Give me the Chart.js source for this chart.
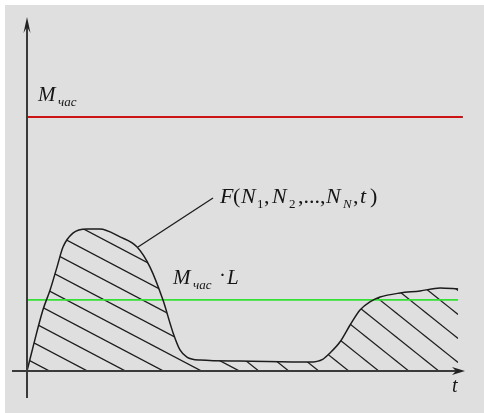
<!DOCTYPE html>
<html>
<head>
<meta charset="utf-8">
<script src="https://cdn.jsdelivr.net/npm/chart.js@4"></script>
<style>
  html, body { margin: 0; padding: 0; background: #fff; }
  #wrap { position: relative; width: 484px; height: 413px; }
  #panel { position: absolute; left: 5px; top: 5px; right: 0; bottom: 0; background: #dfdfdf; }
  #loadChart { position: absolute; left: 0; top: 0; }
</style>
</head>
<body>
<div id="wrap">
  <div id="panel"></div>
  <canvas id="loadChart" width="484" height="413"></canvas>
</div>
<script>
// Load curve F(N1, N2, ..., NN, t) over time
const timePoints = [0, 0.2, 0.53, 0.77, 1.0, 1.2, 1.53, 2.0, 2.43, 3.1, 3.67, 4.1, 4.53, 4.87, 5.1, 5.33, 5.77, 7.1,
                    9.43, 9.87, 10.1, 10.43, 10.77, 11.1, 11.43, 11.77, 12.43, 13.1, 13.77, 14.37];
const loadValues = [0, 0.94, 2.4, 3.19, 4.09, 4.88, 5.43, 5.59, 5.59, 5.28, 4.88, 4.09, 2.8, 1.5, 0.83, 0.55, 0.43, 0.39,
                    0.35, 0.47, 0.71, 1.14, 1.81, 2.4, 2.72, 2.91, 3.07, 3.15, 3.27, 3.23];
const splitIndex = 17; // hatching changes direction after the first hump

// Limit levels
const maxLoad = 10;      // M_час
const loadFactor = 0.28; // L
const maxLineEnd = 14.53;
const limitLineEnd = 14.37;

// Leader line to the curve label
const leaderT = [3.7, 6.2];
const leaderF = [4.88, 6.81];

// Axis extents
const tAxisRange = [-0.5, 14.6];
const fAxisRange = [-1.06, 13.94];

function hatchPattern(w, h, offset) {
    const c = document.createElement('canvas');
    c.width = w;
    c.height = h;
    const g = c.getContext('2d');
    g.strokeStyle = '#1e1e1e';
    g.lineWidth = 1.3;
    for (let k = -2; k <= 2; k++) {
        g.beginPath();
        g.moveTo(-w, -h + offset + k * h);
        g.lineTo(2 * w, 2 * h + offset + k * h);
        g.stroke();
    }
    return g.createPattern(c, 'repeat');
}

const curve = timePoints.map((t, i) => ({ x: t, y: loadValues[i] }));
const leftPart = curve.map((p, i) => (i <= splitIndex ? p : { x: p.x, y: null }));
const rightPart = curve.map((p, i) => (i >= splitIndex ? p : { x: p.x, y: null }));

// each run: text, font, x offset from the label start, baseline shift
function drawRuns(ctx, x, y, runs) {
    runs.forEach(r => {
        ctx.font = r.font;
        ctx.fillText(r.text, x + r.at, y + (r.dy || 0));
    });
}

const serif = "'Liberation Serif', 'DejaVu Serif', serif";
const big = 'italic 21px ' + serif;
const bigUp = '21px ' + serif;
const sub = 'italic 13px ' + serif;
const subUp = '13px ' + serif;
const fBig = 'italic 22px ' + serif;
const fBigUp = '22px ' + serif;

// Axes with arrows and the formula labels
const annotations = {
    id: 'annotations',
    afterDatasetsDraw(chart) {
        const ctx = chart.ctx;
        const xs = chart.scales.x, ys = chart.scales.y;
        const x0 = xs.getPixelForValue(0), y0 = ys.getPixelForValue(0);
        ctx.save();

        ctx.strokeStyle = '#3a3a3a';
        ctx.fillStyle = '#222';
        ctx.lineWidth = 2;
        const yTop = ys.getPixelForValue(fAxisRange[1]);
        const xEnd = xs.getPixelForValue(tAxisRange[1]);
        ctx.beginPath();
        ctx.moveTo(x0, ys.getPixelForValue(fAxisRange[0]));
        ctx.lineTo(x0, yTop + 6);
        ctx.moveTo(xs.getPixelForValue(tAxisRange[0]), y0);
        ctx.lineTo(xEnd - 6, y0);
        ctx.stroke();

        ctx.beginPath();
        ctx.moveTo(x0, yTop);
        ctx.lineTo(x0 - 3.5, yTop + 16);
        ctx.lineTo(x0, yTop + 10);
        ctx.lineTo(x0 + 3.5, yTop + 16);
        ctx.closePath();
        ctx.fill();
        ctx.beginPath();
        ctx.moveTo(xEnd, y0);
        ctx.lineTo(xEnd - 13, y0 - 4);
        ctx.lineTo(xEnd - 9, y0);
        ctx.lineTo(xEnd - 13, y0 + 4);
        ctx.closePath();
        ctx.fill();

        ctx.fillStyle = '#151515';
        ctx.textBaseline = 'alphabetic';
        const yMax = ys.getPixelForValue(maxLoad);
        drawRuns(ctx, x0 + 11, yMax - 16, [
            { text: 'M', font: big, at: 0 },
            { text: 'час', font: sub, at: 20, dy: 5 }
        ]);

        const yLim = ys.getPixelForValue(maxLoad * loadFactor);
        drawRuns(ctx, 173, yLim - 16, [
            { text: 'M', font: big, at: 0 },
            { text: 'час', font: sub, at: 20, dy: 5 },
            { text: '·', font: bigUp, at: 46, dy: -2 },
            { text: 'L', font: big, at: 54 }
        ]);

        const lx = xs.getPixelForValue(leaderT[1]) + 7;
        const ly = ys.getPixelForValue(leaderF[1]) + 5;
        drawRuns(ctx, lx, ly, [
            { text: 'F', font: fBig, at: 0 },
            { text: '(', font: fBigUp, at: 13 },
            { text: 'N', font: fBig, at: 21 },
            { text: '1', font: subUp, at: 37, dy: 5 },
            { text: ',', font: fBigUp, at: 44 },
            { text: 'N', font: fBig, at: 52 },
            { text: '2', font: subUp, at: 69, dy: 5 },
            { text: ',...,', font: fBigUp, at: 78 },
            { text: 'N', font: fBig, at: 106 },
            { text: 'N', font: sub, at: 123, dy: 5 },
            { text: ',', font: fBigUp, at: 133 },
            { text: 't', font: fBig, at: 140 },
            { text: ')', font: fBigUp, at: 150 }
        ]);

        ctx.font = 'italic 20px ' + serif;
        ctx.fillText('t', xEnd - 13, y0 + 21);
        ctx.restore();
    }
};

const ctx = document.getElementById('loadChart').getContext('2d');
const loadChart = new Chart(ctx, {
    type: 'line',
    data: {
        datasets: [{
            data: curve,
            borderColor: '#1c1c1c',
            borderWidth: 1.5,
            cubicInterpolationMode: 'monotone',
            fill: false
        }, {
            data: leaderT.map((t, i) => ({ x: t, y: leaderF[i] })),
            borderColor: '#1c1c1c',
            borderWidth: 1.3,
            fill: false
        }, {
            data: [{ x: 0, y: maxLoad }, { x: maxLineEnd, y: maxLoad }],
            borderColor: '#cc1414',
            borderWidth: 1.8,
            fill: false
        }, {
            data: [{ x: 0, y: maxLoad * loadFactor }, { x: limitLineEnd, y: maxLoad * loadFactor }],
            borderColor: '#34e034',
            borderWidth: 1.8,
            fill: false
        }, {
            data: leftPart,
            borderColor: 'rgba(0,0,0,0)',
            borderWidth: 0,
            cubicInterpolationMode: 'monotone',
            backgroundColor: hatchPattern(38, 20, 5),
            fill: 'origin'
        }, {
            data: rightPart,
            borderColor: 'rgba(0,0,0,0)',
            borderWidth: 0,
            cubicInterpolationMode: 'monotone',
            backgroundColor: hatchPattern(30, 24, 20),
            fill: 'origin'
        }]
    },
    options: {
        responsive: false,
        animation: false,
        events: [],
        layout: { padding: 0 },
        elements: { point: { radius: 0 } },
        plugins: {
            legend: { display: false },
            tooltip: { enabled: false }
        },
        scales: {
            x: { type: 'linear', display: false, min: -0.9, max: -0.9 + 484 / 30 },
            y: { display: false, min: -1.654, max: 14.606 }
        }
    },
    plugins: [annotations]
});
</script>
</body>
</html>
